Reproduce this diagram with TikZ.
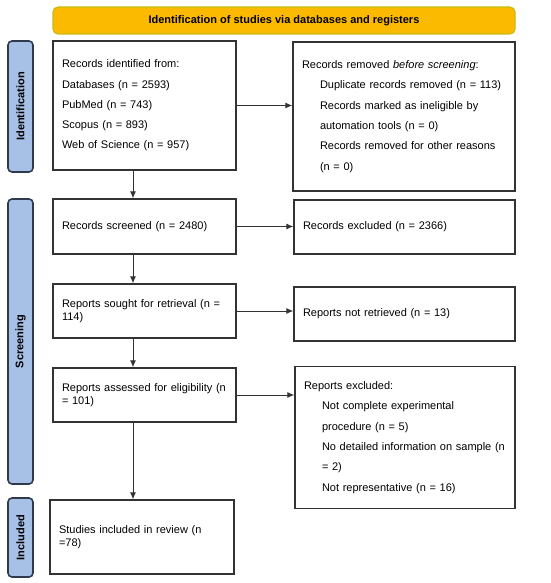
\documentclass[tikz,border=0pt]{standalone}
\usepackage{fontspec}
\setmainfont{Liberation Sans}
\usetikzlibrary{arrows.meta,positioning}
\definecolor{titlefill}{HTML}{FBBA00}
\definecolor{titleedge}{HTML}{C8BC10}
\definecolor{sidefill}{HTML}{A6C0E6}
\definecolor{sideedge}{HTML}{2E3A4E}
\definecolor{boxedge}{HTML}{333333}
\begin{document}
\begin{tikzpicture}[x=1pt,y=-1pt,
  stagebox/.style={draw=boxedge, line width=1.3pt, inner xsep=9pt, inner ysep=2pt, align=left, anchor=center},
  listtext/.style={font=\fontsize{11}{20.3}\selectfont},
  wraptext/.style={font=\fontsize{11}{13}\selectfont},
  sidelabel/.style={draw=sideedge, fill=sidefill, line width=1.6pt, rounded corners=4pt, rotate=90, minimum height=25pt, inner sep=0pt, font=\fontsize{11}{13}\selectfont\bfseries},
  arr/.style={draw=boxedge, line width=1pt, -{Latex[length=7pt,width=6pt]}}
]
\useasboundingbox (0,0) rectangle (550,583);
% title
\node[draw=titleedge, fill=titlefill, line width=1.2pt, rounded corners=5pt, minimum width=462pt, minimum height=27pt, inner sep=0pt, font=\fontsize{11}{13}\selectfont\bfseries] (title) at (284,20.5) {Identification of studies via databases and registers};
% side labels
\node[sidelabel, minimum width=131pt] (sideid) at (20.5,106.5) {Identification};
\node[sidelabel, minimum width=285pt] (sidescr) at (20.5,341.5) {Screening};
\node[sidelabel, minimum width=79pt] (sideinc) at (20.5,537.5) {Included};
% left column
\node[stagebox, listtext, minimum width=183pt, minimum height=129pt, text width=165pt] (ident) at (144.5,105.5) {Records identified from:\\Databases (n = 2593)\\PubMed (n = 743)\\Scopus (n = 893)\\Web of Science (n = 957)};
\node[stagebox, wraptext, minimum width=183pt, minimum height=55pt, text width=165pt] (screen) at (144.5,226.5) {Records screened (n = 2480)};
\node[stagebox, wraptext, minimum width=183pt, minimum height=54pt, text width=165pt] (sought) at (144.5,311) {Reports sought for retrieval (n =\\114)};
\node[stagebox, wraptext, minimum width=183pt, minimum height=54pt, text width=165pt] (assess) at (144.5,395) {Reports assessed for eligibility (n\\= 101)};
\node[stagebox, wraptext, minimum width=184pt, minimum height=74pt, text width=166pt] (incl) at (142,537) {Studies included in review (n\\=78)};
% right column
\node[stagebox, listtext, minimum width=222pt, minimum height=149pt, text width=204pt] (removed) at (404,116.5) {Records removed \emph{before screening}:\\\hspace*{18pt}Duplicate records removed (n = 113)\\\hspace*{18pt}Records marked as ineligible by\\\hspace*{18pt}automation tools (n = 0)\\\hspace*{18pt}Records removed for other reasons\\\hspace*{18pt}(n = 0)};
\node[stagebox, wraptext, minimum width=221pt, minimum height=54pt, text width=203pt] (excl) at (404.5,227) {Records excluded (n = 2366)};
\node[stagebox, wraptext, minimum width=221pt, minimum height=54pt, text width=203pt] (notret) at (404.5,314) {Reports not retrieved (n = 13)};
\node[stagebox, listtext, minimum width=220pt, minimum height=142pt, text width=202pt] (repexcl) at (405,437.5) {Reports excluded:\\\hspace*{18pt}Not complete experimental\\\hspace*{18pt}procedure (n = 5)\\\hspace*{18pt}No detailed information on sample (n\\\hspace*{18pt}= 2)\\\hspace*{18pt}Not representative (n = 16)};
% connectors
\coordinate (col) at (133,0);
\draw[arr] (ident.south -| col) -- (screen.north -| col);
\draw[arr] (screen.south -| col) -- (sought.north -| col);
\draw[arr] (sought.south -| col) -- (assess.north -| col);
\draw[arr] (assess.south -| col) -- (incl.north -| col);
\draw[arr] (ident.east) -- (ident.east -| removed.west);
\draw[arr] (screen.east) -- (screen.east -| excl.west);
\draw[arr] (sought.east) -- (sought.east -| notret.west);
\draw[arr] (assess.east) -- (assess.east -| repexcl.west);
\end{tikzpicture}
\end{document}
